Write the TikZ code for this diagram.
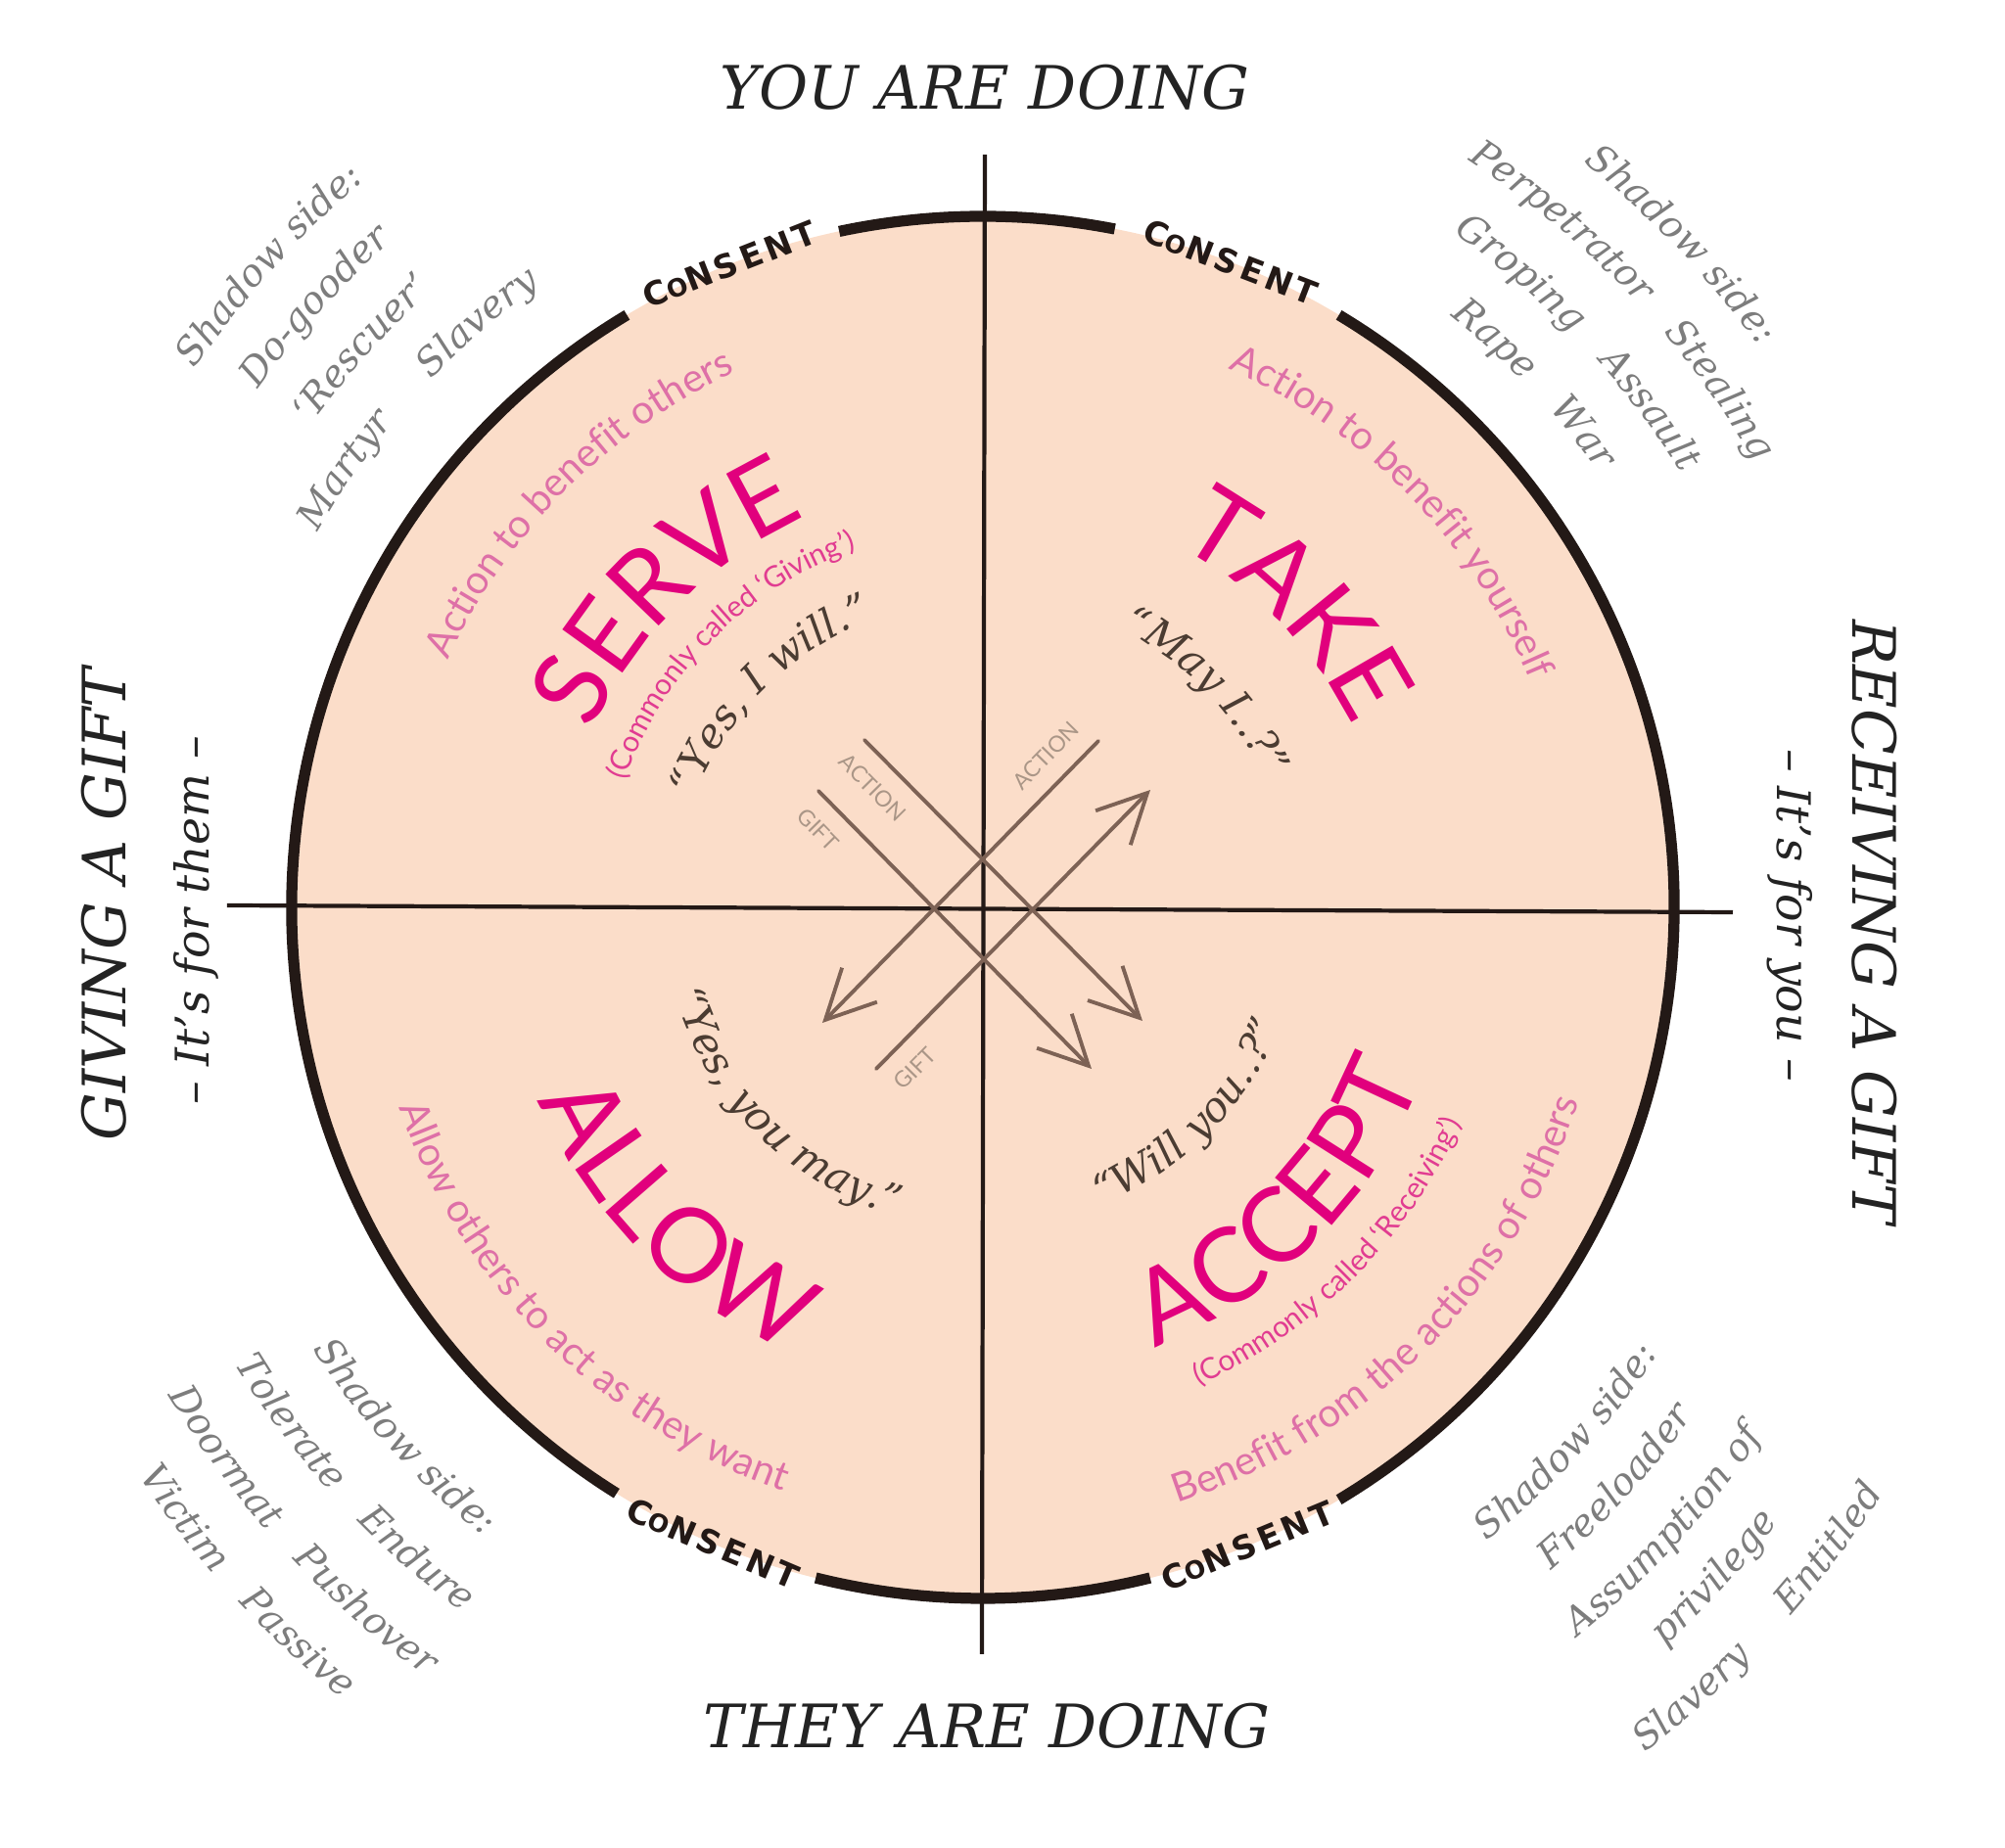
\documentclass[tikz,border=0pt]{standalone}
\usepackage{fontspec}
\setmainfont{DejaVu Serif}
\newfontfamily\lato{Lato}
\newfontfamily\consentfont[LetterSpace=12]{DejaVu Sans}
\usetikzlibrary{arrows.meta,decorations.text}

\definecolor{peach}{RGB}{251,221,201}
\definecolor{rimcolor}{RGB}{35,25,22}
\definecolor{hotpink}{RGB}{225,0,125}
\definecolor{midpink}{RGB}{225,60,145}
\definecolor{softpink}{RGB}{222,112,167}
\definecolor{quotebrown}{RGB}{75,60,50}
\definecolor{shadowgray}{RGB}{125,125,125}
\definecolor{arrowbrown}{RGB}{125,98,85}
\definecolor{tagbrown}{RGB}{170,150,135}
\definecolor{labelblack}{RGB}{35,35,35}

\newcommand\bigword{\lato\fontsize{30}{30}\selectfont}
\newcommand\subline{\lato\fontsize{11.5}{11.5}\selectfont}
\newcommand\smallline{\lato\fontsize{8.5}{8.5}\selectfont}
\newcommand\quoteline{\itshape\fontsize{12}{12}\selectfont}
\newcommand\shadowline{\itshape\fontsize{11}{11}\selectfont}

% text on an arc round the centre: #1 font, #2 colour, #3 middle angle, #4 baseline radius, #5 text
\newcommand{\cwtext}[5]{%
  \pgfmathsetmacro\arcfrom{#3+60}\pgfmathsetmacro\arcto{#3-60}%
  \path[decorate, decoration={text along path, text align=center,
    text color=#2, text={|#1|#5}}]
    (\arcfrom:#4) arc[start angle=\arcfrom, end angle=\arcto, radius=#4];}
\newcommand{\ccwtext}[5]{%
  \pgfmathsetmacro\arcfrom{#3-60}\pgfmathsetmacro\arcto{#3+60}%
  \path[decorate, decoration={text along path, text align=center,
    text color=#2, text={|#1|#5}}]
    (\arcfrom:#4) arc[start angle=\arcfrom, end angle=\arcto, radius=#4];}

\begin{document}
\begin{tikzpicture}[font=\footnotesize,
    rim/.style={draw=rimcolor, line width=3.2pt},
    crossline/.style={draw=rimcolor, line width=1.2pt},
    arrowline/.style={draw=arrowbrown, line width=1.1pt, line cap=round,
      -{Straight Barb[length=5mm, width=5mm]}},
    tag/.style={font=\lato\fontsize{6.5}{6.5}\selectfont, text=tagbrown, inner sep=1pt},
    consent/.style={font=\consentfont\bfseries\fontsize{9.5}{9.5}\selectfont,
      text=rimcolor, inner sep=0pt},
    sidelabel/.style={font=\itshape\fontsize{17.4}{17.4}\selectfont, text=labelblack, inner sep=0pt},
    sidenote/.style={font=\itshape\fontsize{13.5}{13.5}\selectfont, text=labelblack, inner sep=0pt}]
  \useasboundingbox (-10.04,-9.61) rectangle (10.44,9.27);

  % disc and cross
  \fill[peach] (0,0) circle (7.06);
  \coordinate (west) at (-7.72,0.02);
  \coordinate (east) at (7.66,-0.05);
  \coordinate (north) at (0.02,7.69);
  \coordinate (south) at (-0.01,-7.63);
  \draw[crossline] (west) -- (east);
  \draw[crossline] (north) -- (south);

  % rim, broken where CONSENT sits
  \draw[rim] (79:7.06) arc[start angle=79, end angle=102, radius=7.06];
  \draw[rim] (121:7.06) arc[start angle=121, end angle=238, radius=7.06];
  \draw[rim] (256:7.06) arc[start angle=256, end angle=284, radius=7.06];
  \draw[rim] (301:7.06) arc[start angle=301, end angle=419, radius=7.06];

  \node[consent, rotate=21.5] (consentNW) at (111.5:7.06) {C{\fontsize{7.2}{7.2}\selectfont O}NSENT};
  \node[consent, rotate=-21] (consentNE) at (69:7.06) {C{\fontsize{7.2}{7.2}\selectfont O}NSENT};
  \node[consent, rotate=-23] (consentSW) at (247:7.06) {C{\fontsize{7.2}{7.2}\selectfont O}NSENT};
  \node[consent, rotate=22.5] (consentSE) at (292.5:7.06) {C{\fontsize{7.2}{7.2}\selectfont O}NSENT};

  % the four arrows
  \coordinate (act1) at (-1.21,1.71);
  \coordinate (act1tip) at (1.63,-1.16);
  \coordinate (gift1) at (-1.68,1.19);
  \coordinate (gift1tip) at (1.11,-1.65);
  \coordinate (act2) at (1.18,1.70);
  \coordinate (act2tip) at (-1.64,-1.18);
  \coordinate (gift2) at (-1.09,-1.65);
  \coordinate (gift2tip) at (1.71,1.20);
  \draw[arrowline] (act1) -- node[tag, pos=0.1, sloped, below=4pt] (tagact1) {ACTION} (act1tip);
  \draw[arrowline] (gift1) -- node[tag, pos=0.07, sloped, below=4pt] (taggift1) {GIFT} (gift1tip);
  \draw[arrowline] (act2) -- node[tag, pos=0.12, sloped, above=4pt] (tagact2) {ACTION} (act2tip);
  \draw[arrowline] (gift2) -- node[tag, pos=0.07, sloped, below=4pt] (taggift2) {GIFT} (gift2tip);

  % serve
  \cwtext{\subline}{softpink}{135}{6.02}{Action to benefit others}
  \cwtext{\bigword}{hotpink}{135}{4.38}{SERVE}
  \cwtext{\smallline}{midpink}{135}{3.88}{(Commonly called ‘Giving’)}
  \cwtext{\quoteline}{quotebrown}{135}{3.15}{“Yes, I will.”}
  % take
  \cwtext{\subline}{softpink}{44}{6.05}{Action to benefit yourself}
  \cwtext{\bigword}{hotpink}{44}{4.2}{TAKE}
  \cwtext{\quoteline}{quotebrown}{44}{3.17}{“May I..?”}
  % allow
  \ccwtext{\quoteline}{quotebrown}{225}{3.27}{“Yes, you may.”}
  \ccwtext{\bigword}{hotpink}{225}{4.95}{ALLOW}
  \ccwtext{\subline}{softpink}{225}{6.3}{Allow others to act as they want}
  % accept
  \ccwtext{\quoteline}{quotebrown}{315}{3.27}{“Will you..?”}
  \ccwtext{\bigword}{hotpink}{315}{4.82}{ACCEPT}
  \ccwtext{\smallline}{midpink}{315}{5.36}{(Commonly called ‘Receiving’)}
  \ccwtext{\subline}{softpink}{315}{6.4}{Benefit from the actions of others}

  % shadow sides
  \cwtext{\shadowline}{shadowgray}{138}{9.75}{Shadow side:}
  \cwtext{\shadowline}{shadowgray}{138}{9.1}{Do-gooder}
  \cwtext{\shadowline}{shadowgray}{138}{8.45}{‘Rescuer’}
  \cwtext{\shadowline}{shadowgray}{138}{7.8}{Martyr^^^^2003^^^^2002Slavery}

  \cwtext{\shadowline}{shadowgray}{43.5}{9.78}{Shadow side:}
  \cwtext{\shadowline}{shadowgray}{43.5}{9.1}{Perpetrator^^^^2003Stealing}
  \cwtext{\shadowline}{shadowgray}{43.5}{8.4}{Groping^^^^2003Assault}
  \cwtext{\shadowline}{shadowgray}{43.5}{7.7}{Rape^^^^2003War}

  \ccwtext{\shadowline}{shadowgray}{222.5}{8.2}{Shadow side:}
  \ccwtext{\shadowline}{shadowgray}{222.5}{8.95}{Tolerate^^^^2003Endure}
  \ccwtext{\shadowline}{shadowgray}{222.5}{9.7}{Doormat^^^^2003Pushover}
  \ccwtext{\shadowline}{shadowgray}{222.5}{10.4}{Victim^^^^2003Passive}

  \ccwtext{\shadowline}{shadowgray}{317.5}{8.27}{Shadow side:}
  \ccwtext{\shadowline}{shadowgray}{317.5}{8.92}{Freeloader}
  \ccwtext{\shadowline}{shadowgray}{317.5}{9.62}{Assumption of}
  \ccwtext{\shadowline}{shadowgray}{317.5}{10.27}{privilege}
  \ccwtext{\shadowline}{shadowgray}{317.5}{10.97}{Slavery^^^^2003^^^^2002Entitled}

  % outer labels
  \node[sidelabel] (you) at (0.02,8.38) {YOU ARE DOING};
  \node[sidelabel] (they) at (0.04,-8.36) {THEY ARE DOING};
  \node[sidelabel, rotate=90] (giving) at (-8.98,0.03) {GIVING A GIFT};
  \node[sidenote, rotate=90, anchor=base] (forthem) at (-7.9,-0.13) {– It’s for them –};
  \node[sidelabel, rotate=-90] (receiving) at (9.11,-0.15) {RECEIVING A GIFT};
  \node[sidenote, rotate=-90, anchor=base] (foryou) at (8.12,-0.08) {– It’s for you –};
\end{tikzpicture}
\end{document}
